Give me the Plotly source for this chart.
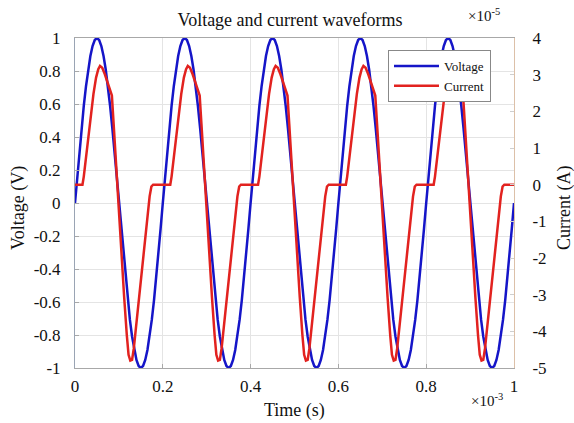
import plotly.graph_objects as go

# ---------------- data ----------------
period_ms = 0.2
n_periods = 5

# one period of the voltage (V), sampled every 0.005 ms (x10^-3 s)
cycle_voltage = [0.0, 0.156, 0.309, 0.454, 0.588, 0.707, 0.809, 0.891, 0.951, 0.988,
                 1.0, 0.988, 0.951, 0.891, 0.809, 0.707, 0.588, 0.454, 0.309, 0.156,
                 0.0, -0.156, -0.309, -0.454, -0.588, -0.707, -0.809, -0.891, -0.951, -0.988,
                 -1.0, -0.988, -0.951, -0.891, -0.809, -0.707, -0.588, -0.454, -0.309, -0.156]
voltage_step_ms = 0.005

# one period of the current (x10^-5 A) at phase times (x10^-3 s)
cycle_current_phase = [0.000, 0.017, 0.020, 0.024, 0.030, 0.036, 0.042, 0.048, 0.053, 0.057,
                       0.062, 0.068, 0.075, 0.081, 0.084, 0.088, 0.093, 0.099, 0.105, 0.112,
                       0.118, 0.122, 0.126, 0.130, 0.134, 0.140, 0.147, 0.156, 0.164, 0.170,
                       0.174, 0.178]
cycle_current = [0.0, 0.0, 0.22, 0.63, 1.30, 1.93, 2.47, 2.92, 3.15, 3.24,
                 3.19, 3.01, 2.74, 2.56, 2.43, 1.66, 0.63, -0.50, -1.85, -3.07,
                 -4.10, -4.64, -4.80, -4.78, -4.46, -3.74, -2.98, -1.99, -1.04, -0.32,
                 -0.05, 0.0]

x_ticks = [0, 0.2, 0.4, 0.6, 0.8, 1]
x_tick_text = ["0", "0.2", "0.4", "0.6", "0.8", "1"]
v_ticks = [1, 0.8, 0.6, 0.4, 0.2, 0, -0.2, -0.4, -0.6, -0.8, -1]
v_tick_text = ["1", "0.8", "0.6", "0.4", "0.2", "0", "-0.2", "-0.4", "-0.6", "-0.8", "-1"]
i_ticks = [4, 3, 2, 1, 0, -1, -2, -3, -4, -5]
i_tick_text = ["4", "3", "2", "1", "0", "-1", "-2", "-3", "-4", "-5"]

# ---------------- build series ----------------
t_v, v = [], []
for k in range(n_periods):
    for j, val in enumerate(cycle_voltage):
        t_v.append(k * period_ms + j * voltage_step_ms)
        v.append(val)
t_v.append(n_periods * period_ms)
v.append(cycle_voltage[0])

t_i, cur = [], []
for k in range(n_periods):
    for ph, val in zip(cycle_current_phase, cycle_current):
        t_i.append(k * period_ms + ph)
        cur.append(val)
t_i.append(n_periods * period_ms)
cur.append(cycle_current[0])

FONT = "'Liberation Serif', 'DejaVu Serif', serif"
TXT = dict(family=FONT, size=18, color="#111")
TICK = dict(family=FONT, size=17, color="#111")
fig = go.Figure()
fig.add_trace(go.Scatter(x=t_v, y=v, mode="lines", name="Voltage",
                         line=dict(color="#1515c8", width=2.5)))
fig.add_trace(go.Scatter(x=t_i, y=cur, mode="lines", name="Current", yaxis="y2",
                         line=dict(color="#e2221f", width=2.5)))

W, H = 574, 423
PL, PR, PT, PB = 75, 514, 38, 368
fig.update_layout(
    width=W, height=H,
    margin=dict(l=PL, r=W - PR, t=PT, b=H - PB),
    paper_bgcolor="white", plot_bgcolor="white",
    font=TXT,
    showlegend=True,
    legend=dict(x=(388 - PL) / (PR - PL), y=(PB - 50) / (PB - PT),
                xanchor="left", yanchor="top",
                bgcolor="white", bordercolor="#888", borderwidth=1,
                font=dict(family=FONT, size=13, color="#111"),
                tracegroupgap=0, itemwidth=45),
    xaxis=dict(range=[0, 1], tickvals=x_ticks, ticktext=x_tick_text,
               showgrid=True, gridcolor="#e4e4e4", zeroline=False,
               showline=True, linecolor="#a8a8a8", linewidth=1, mirror=True,
               ticks="inside", ticklen=4, tickcolor="#a8a8a8",
               ticklabelstandoff=3, tickfont=TICK),
    yaxis=dict(range=[-1, 1], tickvals=v_ticks, ticktext=v_tick_text,
               showgrid=True, gridcolor="#e4e4e4", zeroline=False,
               showline=True, linecolor="#9aa4b4", linewidth=1,
               ticks="inside", ticklen=4, tickcolor="#a8a8a8",
               ticklabelstandoff=10, tickfont=TICK),
    yaxis2=dict(range=[-5, 4], tickvals=i_ticks, ticktext=i_tick_text,
                overlaying="y", side="right", showgrid=False, zeroline=False,
                showline=True, linecolor="#dcc0a8", linewidth=1,
                ticks="inside", ticklen=4, tickcolor="#cfcfcf",
                ticklabelstandoff=14, tickfont=TICK),
    title=dict(text="Voltage and current waveforms", x=290 / W, xanchor="center",
               y=1 - 20 / H, yanchor="middle",
               font=dict(family=FONT, size=18, color="#111")),
)

def note(text, px, py, size=18, angle=0):
    # px, py: target position in window pixels
    fig.add_annotation(text=text, xref="paper", yref="paper",
                       x=(px - PL) / (PR - PL), y=(PB - py) / (PB - PT),
                       xanchor="center", yanchor="middle",
                       textangle=angle, showarrow=False,
                       font=dict(family=FONT, size=size, color="#111"))

note("Voltage (V)", 18, 208, angle=-90)
note("Current (A)", 564, 208, angle=-90)
note("Time (s)", 294, 410)
note("×10<sup>-3</sup>", 487, 400, size=15)
note("×10<sup>-5</sup>", 484, 15, size=15)

# remove the default 8px page margin so the figure sits at the window's corner
fig.write_html("out.html", config={"displayModeBar": False},
               post_script="document.body.style.margin='0';")
